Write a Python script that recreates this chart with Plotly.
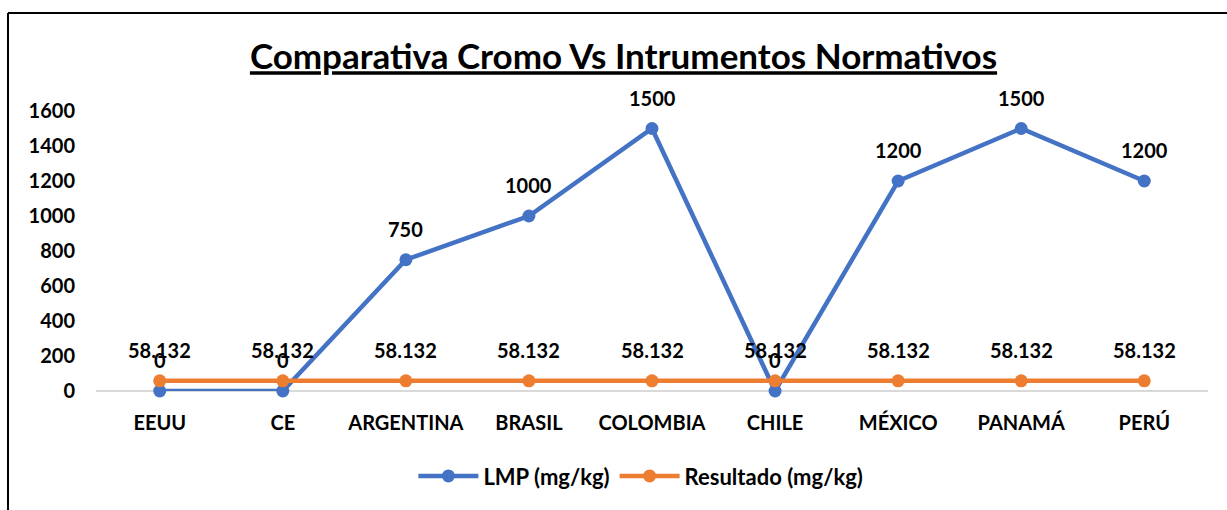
import plotly.graph_objects as go

paises = ["EEUU", "CE", "ARGENTINA", "BRASIL", "COLOMBIA", "CHILE", "MÉXICO", "PANAMÁ", "PERÚ"]
lmp = [0, 0, 750, 1000, 1500, 0, 1200, 1500, 1200]
resultado = [58.132] * 9
y_ticks = [0, 200, 400, 600, 800, 1000, 1200, 1400, 1600]

FONT = "Lato"
BLUE = "#4472C4"
ORANGE = "#ED7D31"
label_font = dict(family=FONT, size=20, color="black", weight="bold")

fig = go.Figure()
fig.add_trace(go.Scatter(
    x=paises, y=lmp, name="LMP (mg/kg)", mode="lines+markers",
    line=dict(color=BLUE, width=4.5), marker=dict(color=BLUE, size=13),
    cliponaxis=False,
))
fig.add_trace(go.Scatter(
    x=paises, y=resultado, name="Resultado (mg/kg)", mode="lines+markers",
    line=dict(color=ORANGE, width=4.5), marker=dict(color=ORANGE, size=13),
    cliponaxis=False,
))

# value labels sitting above each point
annotations = []
for serie, fmt in ((lmp, "{:d}"), (resultado, "{:.3f}")):
    for pais, v in zip(paises, serie):
        annotations.append(dict(
            x=pais, y=v, xref="x", yref="y", text=fmt.format(v),
            showarrow=False, yshift=31, yanchor="middle", font=label_font,
        ))

fig.update_layout(
    width=1227, height=510,
    margin=dict(l=96, r=19, t=111, b=119),
    paper_bgcolor="white", plot_bgcolor="white",
    font=dict(family=FONT, size=20, color="black", weight="bold"),
    title=dict(
        text="<u>Comparativa Cromo Vs Intrumentos Normativos</u>",
        font=dict(family=FONT, size=35, color="black", weight="bold"),
        x=623.5 / 1227, xanchor="center", xref="container",
        y=1 - 57 / 510, yanchor="middle", yref="container",
    ),
    xaxis=dict(
        showgrid=False, showline=False, ticks="", zeroline=False,
        ticklabelstandoff=18,
        tickfont=dict(family=FONT, size=20, color="black", weight="bold"),
    ),
    yaxis=dict(
        range=[0, 1600], tickvals=y_ticks, showgrid=False, showline=False,
        zeroline=True, zerolinecolor="#d9d9d9", zerolinewidth=2,
        ticks="", ticklabelstandoff=20,
        tickfont=dict(family=FONT, size=20, color="black", weight="bold"),
    ),
    legend=dict(
        orientation="h", x=0.49, xanchor="center", y=-0.304, yanchor="middle",
        font=dict(family=FONT, size=22, color="black", weight="bold"),
        itemwidth=60,
    ),
    annotations=annotations,
    shapes=[
        dict(type="line", xref="paper", yref="paper",
             x0=(8 - 96) / 1112, x1=(1240 - 96) / 1112,
             y0=(391 - 13) / 280, y1=(391 - 13) / 280,
             line=dict(color="black", width=2)),
        dict(type="line", xref="paper", yref="paper",
             x0=(8 - 96) / 1112, x1=(8 - 96) / 1112,
             y0=(391 - 13) / 280, y1=(391 - 520) / 280,
             line=dict(color="black", width=2)),
    ],
)

fig.write_html("out.html")
